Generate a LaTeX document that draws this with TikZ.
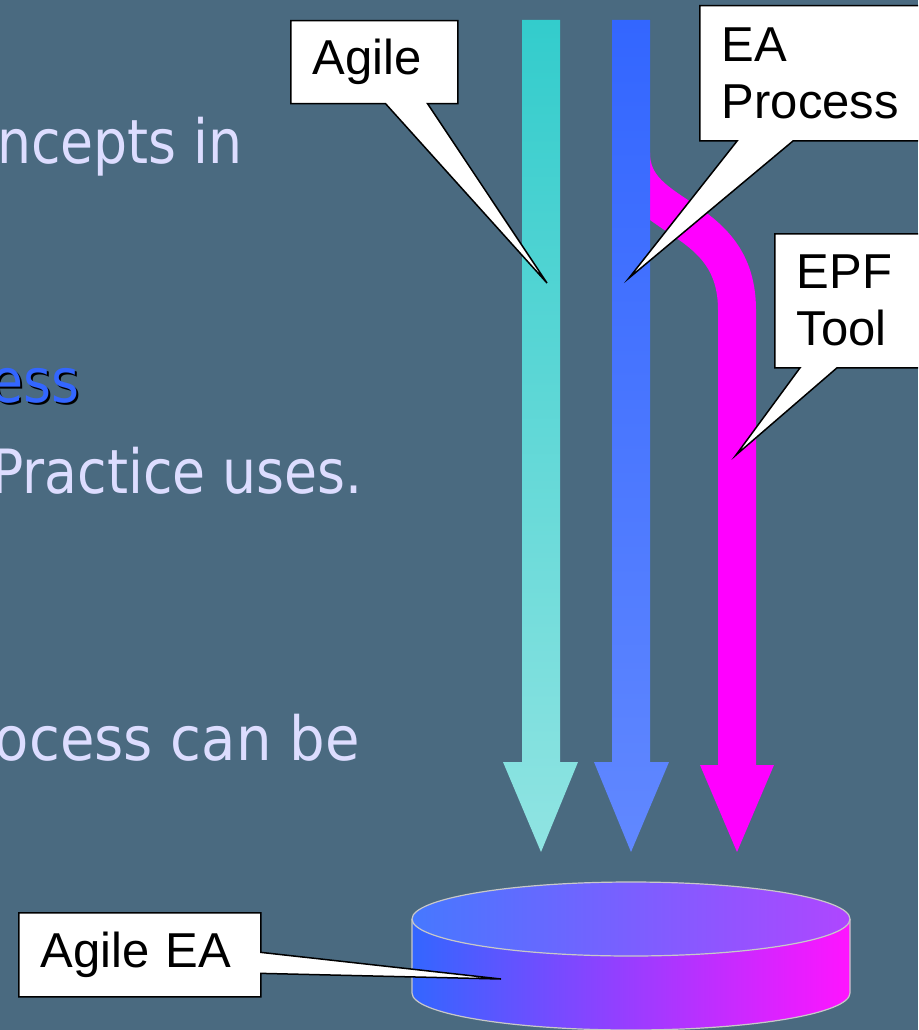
\documentclass[tikz,border=0pt]{standalone}
\usepackage{fontspec}
\setmainfont{Liberation Sans}
\newfontfamily\slidefont{DejaVu Sans}
\usetikzlibrary{shapes.callouts}

\definecolor{slidebg}{RGB}{74,106,128}
\definecolor{slidetext}{RGB}{221,221,255}
\definecolor{hilite}{RGB}{51,102,255}
\definecolor{tealtop}{RGB}{51,204,204}
\definecolor{tealbot}{RGB}{144,228,226}
\definecolor{bluetop}{RGB}{51,102,255}
\definecolor{bluebot}{RGB}{97,136,255}
\definecolor{epfpink}{RGB}{255,0,255}
\definecolor{sideL}{RGB}{51,102,255}
\definecolor{sideM}{RGB}{180,66,255}
\definecolor{sideR}{RGB}{255,20,255}
\definecolor{topL}{RGB}{70,120,255}
\definecolor{topM}{RGB}{128,104,255}
\definecolor{topR}{RGB}{175,70,255}
\definecolor{rimgray}{RGB}{200,200,200}

\tikzset{
  bullettext/.style={anchor=base east, inner sep=0pt, text=slidetext,
    font=\slidefont\fontsize{61}{70}\selectfont},
  callbox/.style={rectangle callout, draw=black, fill=white, line width=1.5pt,
    anchor=north west, align=left, inner xsep=22pt, inner ysep=0pt,
    font=\fontsize{49}{57}\selectfont},
}

\begin{document}
\begin{tikzpicture}[x=1pt,y=1pt]
	\fill[slidebg] (0,0) rectangle (918,-1030);
	\useasboundingbox (0,0) rectangle (918,-1030);
	\clip (0,0) rectangle (918,-1030);
	
	% slide text, cut off at the left edge
	\node[bullettext] (line1) at (243,-163) {\scalebox{0.88}[1]{ncepts in}};
	\node[bullettext, text=black] (line2s) at (82,-404) {\scalebox{0.88}[1]{ess}};
	\node[bullettext, text=hilite] (line2) at (80,-402) {\scalebox{0.88}[1]{ess}};
	\node[bullettext] (line3) at (363,-493) {\scalebox{0.88}[1]{Practice uses.}};
	\node[bullettext] (line4) at (360,-760) {\scalebox{0.92}[1]{ocess can be}};
	
	% the three streams (EPF branches off behind the blue one)
	\draw[epfpink, line width=38pt] (631,-153) .. controls (631,-223) and (737,-210) .. (737,-310) -- (737,-766);
	\fill[epfpink] (700,-765) -- (774,-765) -- (737,-852) -- cycle;
	\shade[top color=tealtop, bottom color=tealbot] (522,-20) -- (560,-20) -- (560,-762) -- (578,-762)
		-- (541,-852) -- (503,-762) -- (522,-762) -- cycle;
	\shade[top color=bluetop, bottom color=bluebot] (612,-20) -- (650,-20) -- (650,-762) -- (669,-762)
		-- (631,-852) -- (594,-762) -- (612,-762) -- cycle;
	
	% repository
	\coordinate (dbtop) at (631,-919);
	\shade[left color=sideL, middle color=sideM, right color=sideR] (412,-919) -- (412,-993)
		arc[start angle=180, end angle=360, x radius=219, y radius=37] -- (850,-919) -- cycle;
	\shade[left color=topL, middle color=topM, right color=topR] (dbtop) ellipse[x radius=219, y radius=37];
	\draw[rimgray, line width=1.2pt] (412,-919) -- (412,-993)
		arc[start angle=180, end angle=360, x radius=219, y radius=37] -- (850,-919);
	\draw[rimgray, line width=1.2pt] (dbtop) ellipse[x radius=219, y radius=37];
	
	% callouts
	\coordinate (agiletip) at (547,-283);
	\coordinate (eatip) at (629,-278);
	\coordinate (epftip) at (736,-455);
	\coordinate (repotip) at (501,-979);
	
	\node[callbox, minimum width=167pt, minimum height=83pt, text width=123pt,
		callout absolute pointer={(agiletip)}, callout pointer width=42pt] (agile) at (290,-20) {Agile};
	\node[callbox, minimum width=265pt, minimum height=135pt, text width=221pt,
		callout absolute pointer={(eatip)}, callout pointer width=56pt] (eaproc) at (699,-5) {EA\\Process};
	\node[callbox, minimum width=214pt, minimum height=134pt, text width=170pt,
		callout absolute pointer={(epftip)}, callout pointer width=37pt] (epftool) at (774,-233) {EPF\\Tool};
	\node[callbox, minimum width=242pt, minimum height=84pt, text width=198pt,
		callout absolute pointer={(repotip)}, callout pointer width=21pt] (agileea) at (18,-912) {Agile EA};
\end{tikzpicture}
\end{document}
